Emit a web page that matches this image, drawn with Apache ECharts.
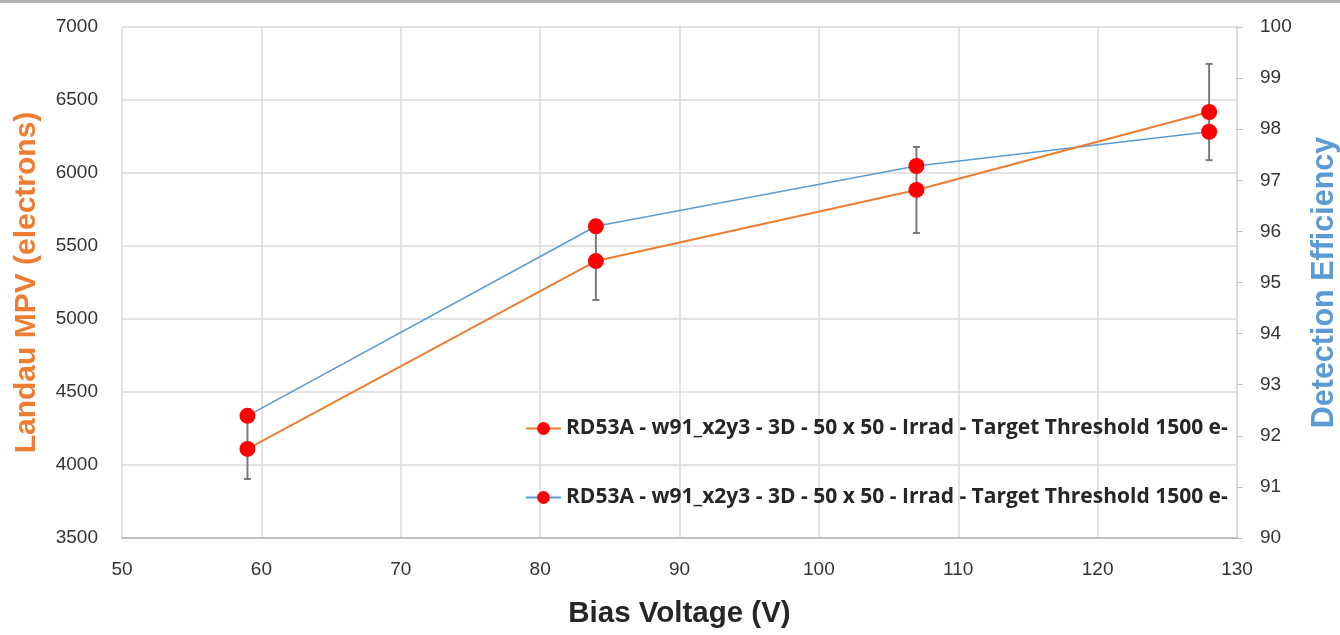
<!DOCTYPE html>
<html>
<head>
<meta charset="utf-8">
<script src="https://cdn.jsdelivr.net/npm/echarts@6/dist/echarts.min.js"></script>
<style>
  html, body { margin: 0; padding: 0; background: #fff; }
  #chart { width: 1340px; height: 635px; }
</style>
</head>
<body>
<div id="chart"></div>
<script>
// 数据
var voltage = [59, 84, 107, 128];
var mpv = [4110, 5397, 5884, 6418];
var mpvLow = [3904, 5130, 5589, 6088];
var mpvHigh = [4320, 5667, 6178, 6747];
var eff = [92.39, 96.1, 97.28, 97.95];
var legendName = "RD53A - w91_x2y3 - 3D - 50 x 50 - Irrad - Target Threshold 1500 e-";

var orange = "#ED7D31";
var blue = "#5B9BD5";
var tickFont = "'Liberation Sans', Arial, sans-serif";
var boldFont = "'Liberation Sans', Arial, sans-serif";
var legendFont = "'Open Sans', 'Liberation Sans', sans-serif";

var mpvData = voltage.map(function (v, i) { return [v, mpv[i]]; });
var effData = voltage.map(function (v, i) { return [v, eff[i]]; });
var errData = voltage.map(function (v, i) { return [v, mpvLow[i], mpvHigh[i]]; });

var myChart = echarts.init(document.getElementById("chart"));

var legendText = { fontFamily: legendFont, fontWeight: "bold", fontSize: 21, color: "#262626" };

myChart.setOption({
  animation: false,
  backgroundColor: "#fff",
  graphic: [
    { type: "rect", shape: { x: 0, y: 0, width: 1340, height: 3 }, style: { fill: "#b4b4b4" } }
  ],
  grid: { left: 122, right: 103, top: 27, bottom: 97, outerBoundsMode: "none", containLabel: false },
  legend: [
    {
      data: [legendName],
      left: 525, top: 418, padding: 0,
      itemWidth: 35, itemHeight: 16,
      textStyle: legendText
    },
    {
      data: [legendName + " "],
      left: 525, top: 487, padding: 0,
      itemWidth: 35, itemHeight: 16,
      formatter: function (name) { return name.trim(); },
      textStyle: legendText
    }
  ],
  xAxis: {
    type: "value",
    min: 50, max: 130, interval: 10,
    name: "Bias Voltage (V)",
    nameLocation: "middle",
    nameGap: 61,
    nameTextStyle: { fontFamily: boldFont, fontWeight: "bold", fontSize: 29.5, color: "#262626" },
    axisLine: { show: true, lineStyle: { color: "#bfbfbf", width: 2 } },
    axisTick: { show: false },
    axisLabel: { margin: 22, fontFamily: tickFont, fontSize: 19, color: "#333" },
    splitLine: { show: true, lineStyle: { color: "#d9d9d9", width: 1.5 } }
  },
  yAxis: [
    {
      type: "value",
      min: 3500, max: 7000, interval: 500,
      name: "Landau MPV (electrons)",
      nameLocation: "middle",
      nameGap: 80,
      nameTextStyle: { fontFamily: boldFont, fontWeight: "bold", fontSize: 30, color: orange },
      axisLine: { show: false },
      axisTick: { show: false },
      axisLabel: { margin: 24, fontFamily: tickFont, fontSize: 19, color: "#333", formatter: function (v) { return String(v); } },
      splitLine: { show: true, lineStyle: { color: "#d9d9d9", width: 1.5 } }
    },
    {
      type: "value",
      min: 90, max: 100, interval: 1,
      position: "right",
      name: "Detection Efficiency",
      nameLocation: "middle",
      nameGap: 72,
      nameRotate: 90,
      nameTextStyle: { fontFamily: boldFont, fontWeight: "bold", fontSize: 30.5, color: blue },
      axisLine: { show: true, lineStyle: { color: "#d9d9d9", width: 1.5 } },
      axisTick: { show: true, length: 6, lineStyle: { color: "#bfbfbf" } },
      axisLabel: { margin: 23, fontFamily: tickFont, fontSize: 19, color: "#333" },
      splitLine: { show: false }
    }
  ],
  series: [
    {
      type: "custom",
      name: "err",
      yAxisIndex: 0,
      z: 1,
      silent: true,
      renderItem: function (params, api) {
        var x = api.value(0);
        var lo = api.coord([x, api.value(1)]);
        var hi = api.coord([x, api.value(2)]);
        var w = 3.5;
        var st = { stroke: "#7a7a7a", lineWidth: 2 };
        return {
          type: "group",
          children: [
            { type: "line", shape: { x1: lo[0], y1: lo[1], x2: hi[0], y2: hi[1] }, style: st },
            { type: "line", shape: { x1: lo[0] - w, y1: lo[1], x2: lo[0] + w, y2: lo[1] }, style: st },
            { type: "line", shape: { x1: hi[0] - w, y1: hi[1], x2: hi[0] + w, y2: hi[1] }, style: st }
          ]
        };
      },
      encode: { x: 0, y: [1, 2] },
      data: errData
    },
    {
      name: legendName,
      type: "line",
      yAxisIndex: 0,
      z: 3,
      data: mpvData,
      symbol: "circle",
      symbolSize: 16,
      itemStyle: { color: "#ff0000" },
      lineStyle: { color: orange, width: 2 }
    },
    {
      name: legendName + " ",
      type: "line",
      yAxisIndex: 1,
      z: 2,
      data: effData,
      symbol: "circle",
      symbolSize: 16,
      itemStyle: { color: "#ff0000" },
      lineStyle: { color: blue, width: 1.6 }
    }
  ]
});
</script>
</body>
</html>
